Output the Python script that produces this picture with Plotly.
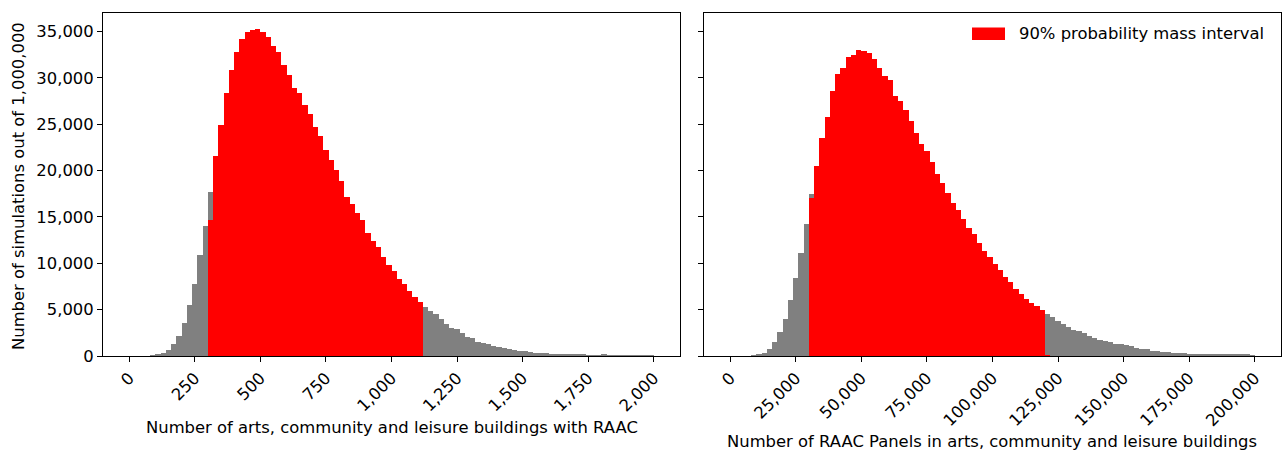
import plotly.graph_objects as go

# Histogram bins: 100 equal-width bins starting at zero
N_BINS = 100
BUILDING_BIN_WIDTH = 20
PANEL_BIN_WIDTH = 2000

# Simulation counts per bin, buildings with RAAC (all simulations)
buildings_counts = [
    0, 0, 0, 0, 70, 140, 360, 650, 1250, 2120,
    3550, 5490, 7820, 10870, 14020, 17750, 21550, 24920, 28370, 30880,
    32810, 34210, 35000, 35210, 35250, 35000, 34430, 33460, 32810, 31410,
    30270, 28970, 28330, 27070, 26110, 24670, 23740, 22230, 21190, 20120,
    18860, 17210, 16420, 15420, 14700, 13270, 12410, 11760, 10690, 9790,
    9140, 8280, 7750, 6990, 6340, 5830, 5240, 4880, 4480, 3940,
    3440, 3050, 2870, 2510, 2080, 1900, 1540, 1430, 1250, 1080,
    930, 825, 720, 650, 570, 570, 430, 360, 360, 360,
    250, 250, 250, 110, 110, 110, 110, 70, 40, 30,
    140, 20, 10, 10, 5, 5, 5, 5, 5, 5,
]

# Counts falling inside the 90% probability mass interval (buildings)
buildings_interval = [
    0, 0, 0, 0, 0, 0, 0, 0, 0, 0,
    0, 0, 0, 0, 0, 14700, 21550, 24920, 28370, 30880,
    32810, 34210, 35000, 35210, 35250, 35000, 34430, 33460, 32810, 31410,
    30270, 28970, 28330, 27070, 26110, 24670, 23740, 22230, 21190, 20120,
    18860, 17210, 16420, 15420, 14700, 13270, 12410, 11760, 10690, 9790,
    9140, 8280, 7750, 6990, 6340, 5830, 0, 0, 0, 0,
    0, 0, 0, 0, 0, 0, 0, 0, 0, 0,
    0, 0, 0, 0, 0, 0, 0, 0, 0, 0,
    0, 0, 0, 0, 0, 0, 0, 0, 0, 0,
    0, 0, 0, 0, 0, 0, 0, 0, 0, 0,
]

# Simulation counts per bin, RAAC panels (all simulations)
panels_counts = [
    0, 0, 0, 0, 35, 200, 360, 720, 1530, 2560,
    3940, 6040, 8430, 11080, 14270, 17500, 20550, 23490, 25780, 28580,
    30410, 31130, 32270, 32450, 33060, 32920, 32670, 32020, 31130, 30230,
    29760, 28070, 27470, 26540, 25390, 24100, 22840, 22160, 20910, 19650,
    18650, 17570, 16530, 15780, 14770, 13840, 13200, 12190, 11300, 10690,
    9900, 9320, 8530, 8000, 7280, 6740, 6100, 5740, 5380, 4950,
    4480, 4160, 3800, 3410, 3160, 2800, 2730, 2510, 2150, 1900,
    1720, 1650, 1540, 1290, 1250, 1150, 1080, 900, 720, 720,
    540, 540, 390, 390, 320, 320, 320, 215, 215, 215,
    215, 110, 110, 110, 110, 110, 110, 110, 110, 30,
]

# Counts falling inside the 90% probability mass interval (panels)
panels_interval = [
    0, 0, 0, 0, 0, 0, 0, 0, 0, 0,
    0, 0, 0, 0, 0, 17100, 20550, 23490, 25780, 28580,
    30410, 31130, 32270, 32450, 33060, 32920, 32670, 32020, 31130, 30230,
    29760, 28070, 27470, 26540, 25390, 24100, 22840, 22160, 20910, 19650,
    18650, 17570, 16530, 15780, 14770, 13840, 13200, 12190, 11300, 10690,
    9900, 9320, 8530, 8000, 7280, 6740, 6100, 5740, 5380, 4950,
    100, 0, 0, 0, 0, 0, 0, 0, 0, 0,
    0, 0, 0, 0, 0, 0, 0, 0, 0, 0,
    0, 0, 0, 0, 0, 0, 0, 0, 0, 0,
    0, 0, 0, 0, 0, 0, 0, 0, 0, 0,
]

building_ticks = [0, 250, 500, 750, 1000, 1250, 1500, 1750, 2000]
panel_ticks = [0, 25000, 50000, 75000, 100000, 125000, 150000, 175000, 200000]
count_ticks = [0, 5000, 10000, 15000, 20000, 25000, 30000, 35000]

GREY = "#808080"
RED = "#ff0000"
FONT = "DejaVu Sans"
FS = 16.4

W, H = 1284, 451
ML, MR, MT, MB = 103, 3, 13, 95
plot_w = W - ML - MR
left_dom = [0, (680 - ML) / plot_w]
right_dom = [(704 - ML) / plot_w, 1]


def centers(width):
    return [width * (i + 0.5) for i in range(N_BINS)]


fig = go.Figure()
for counts, color, xa, width in [
    (buildings_counts, GREY, "x", BUILDING_BIN_WIDTH),
    (buildings_interval, RED, "x", BUILDING_BIN_WIDTH),
    (panels_counts, GREY, "x2", PANEL_BIN_WIDTH),
    (panels_interval, RED, "x2", PANEL_BIN_WIDTH),
]:
    fig.add_trace(go.Bar(
        x=centers(width), y=counts, width=width,
        marker=dict(color=color, line=dict(width=0)),
        xaxis=xa, yaxis="y" if xa == "x" else "y2",
        showlegend=False, hoverinfo="skip",
    ))

y_top = 1.05 * max(max(buildings_counts), max(panels_counts))


def x_range(width):
    span = width * N_BINS
    return [-0.05 * span, 1.05 * span]


axis_common = dict(
    showline=True, linecolor="black", linewidth=1, mirror=True,
    ticks="outside", ticklen=5, tickcolor="black", tickwidth=1,
    showgrid=False, zeroline=False,
    tickfont=dict(family=FONT, size=FS, color="black"),
    tickformat=",",
)

fig.update_layout(
    width=W, height=H,
    margin=dict(l=ML, r=MR, t=MT, b=MB),
    paper_bgcolor="white", plot_bgcolor="white",
    barmode="overlay", bargap=0,
    font=dict(family=FONT, size=FS, color="black"),
    xaxis=dict(domain=left_dom, range=x_range(BUILDING_BIN_WIDTH),
               tickvals=building_ticks, tickangle=-45, anchor="y",
               **axis_common),
    xaxis2=dict(domain=right_dom, range=x_range(PANEL_BIN_WIDTH),
                tickvals=panel_ticks, tickangle=-45, anchor="y2",
                **axis_common),
    yaxis=dict(domain=[0, 1], range=[0, y_top], tickvals=count_ticks,
               anchor="x", **axis_common),
    yaxis2=dict(domain=[0, 1], range=[0, y_top], tickvals=count_ticks,
                anchor="x2", showticklabels=False, matches="y",
                **axis_common),
)

plot_h = H - MT - MB


def px_x(px):
    return (px - ML) / plot_w


def px_y(py):
    return 1 - (py - MT) / plot_h


annotations = [
    dict(text="Number of arts, community and leisure buildings with RAAC",
         x=(px_x(103) + px_x(680)) / 2, y=px_y(427)),
    dict(text="Number of RAAC Panels in arts, community and leisure buildings",
         x=(px_x(704) + px_x(1281)) / 2, y=px_y(441)),
]
for a in annotations:
    fig.add_annotation(xref="paper", yref="paper", showarrow=False,
                       xanchor="center", yanchor="middle",
                       font=dict(family=FONT, size=FS, color="black"), **a)

fig.add_annotation(text="Number of simulations out of 1,000,000",
                   xref="paper", yref="paper", x=px_x(18), y=px_y(186),
                   textangle=-90, showarrow=False, xanchor="center",
                   yanchor="middle",
                   font=dict(family=FONT, size=FS, color="black"))

# Legend entry for the interval, placed in the upper right of the panel chart
fig.add_shape(type="rect", xref="paper", yref="paper",
              x0=px_x(972), x1=px_x(1005), y0=px_y(40), y1=px_y(27.5),
              fillcolor=RED, line=dict(width=0))
fig.add_annotation(text="90% probability mass interval", xref="paper",
                   yref="paper", x=px_x(1017), y=px_y(34), showarrow=False,
                   xanchor="left", yanchor="middle",
                   font=dict(family=FONT, size=FS, color="black"))

fig.write_html("out.html")
